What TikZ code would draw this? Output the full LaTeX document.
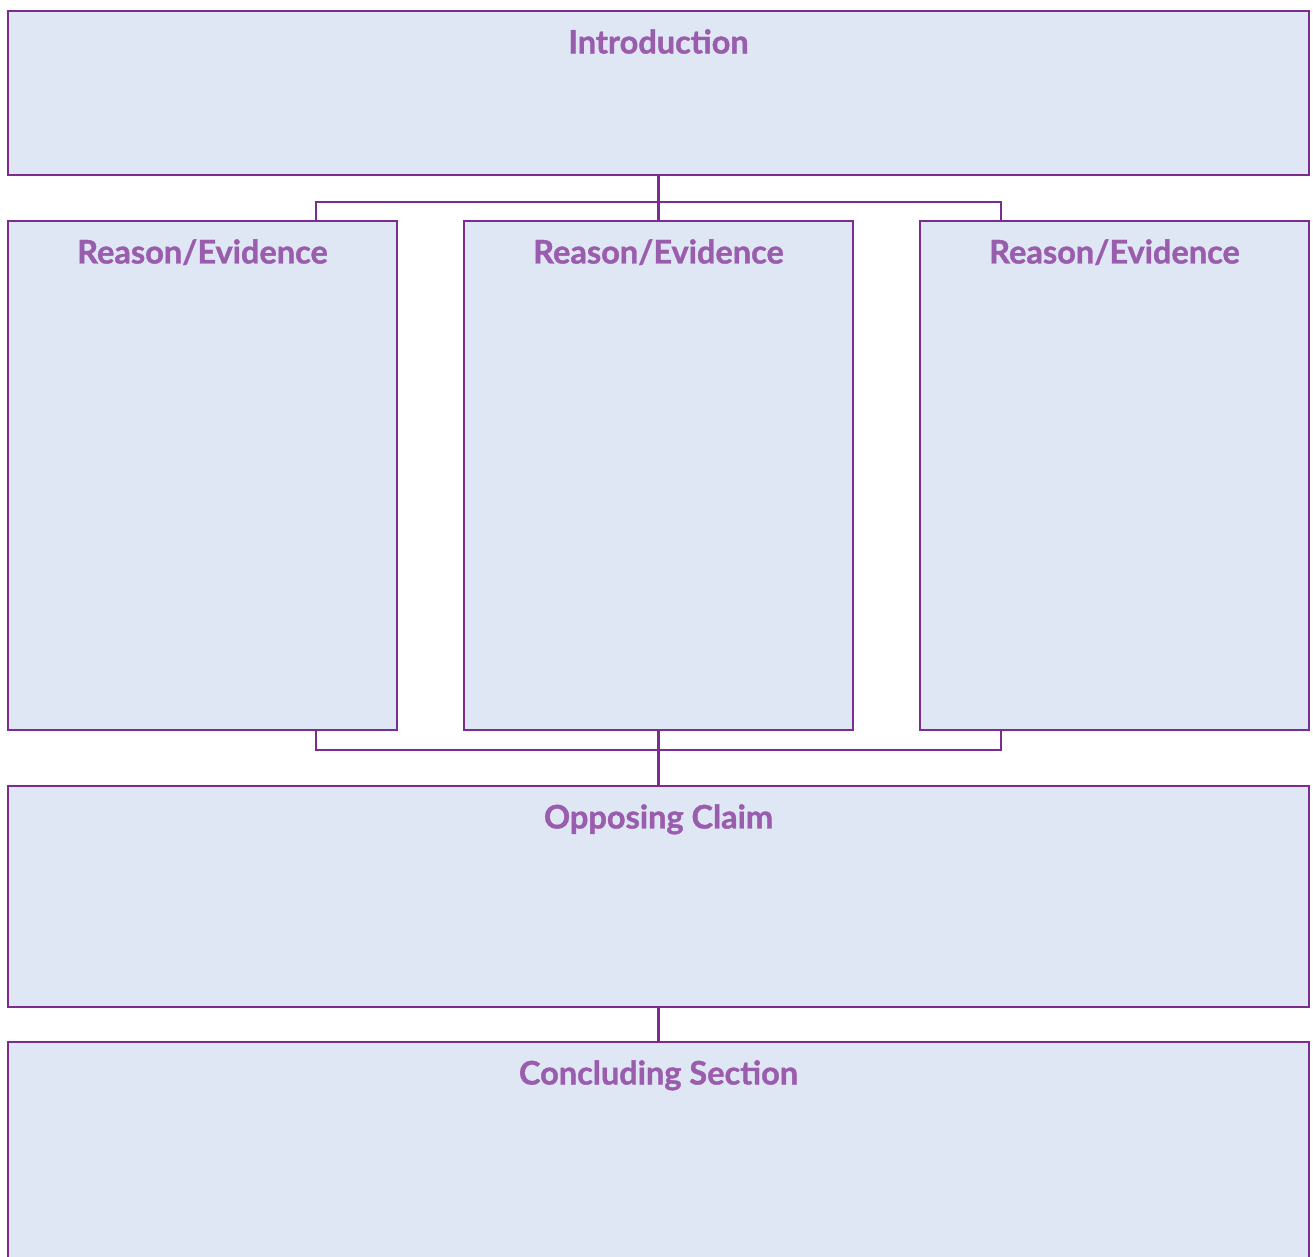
\documentclass[tikz,border=0pt]{standalone}
\usepackage{fontspec}
\setmainfont{Lato}[BoldFeatures={FakeBold=1.2}]
\usetikzlibrary{positioning, calc}
\definecolor{boxline}{HTML}{7B2D8F}
\definecolor{boxfill}{HTML}{E0E7F4}
\definecolor{titletext}{HTML}{9A5DAD}
\tikzstyle{widebox} = [rectangle, minimum width=26.02cm, draw=boxline, fill=boxfill, line width=1.4pt, inner sep=0pt, outer sep=0pt]
\tikzstyle{reasonbox} = [rectangle, minimum width=7.78cm, minimum height=10.18cm, draw=boxline, fill=boxfill, line width=1.4pt, inner sep=0pt, outer sep=0pt]
\tikzstyle{title} = [anchor=north, inner sep=0pt, text=titletext, font=\fontsize{18.5}{22}\selectfont\bfseries]
\tikzstyle{link} = [draw=boxline, line width=1.4pt]

\begin{document}
\begin{tikzpicture}[node distance=1cm]

\useasboundingbox (0,0) rectangle (26.26,25.14);

\node (intro) [widebox, minimum height=3.28cm] at (13.17,23.28) {};
\node (reason2) [reasonbox, below=0.92cm of intro] {};
\node (reason1) [reasonbox, left=1.34cm of reason2] {};
\node (reason3) [reasonbox, right=1.34cm of reason2] {};
\node (opposing) [widebox, minimum height=4.42cm, below=1.12cm of reason2] {};
\node (concluding) [widebox, minimum height=5cm, below=0.7cm of opposing] {};

\node (introtitle) [title, below=0.36cm of intro.north] {Introduction};
\node (reason1title) [title, below=0.36cm of reason1.north] {Reason/Evidence};
\node (reason2title) [title, below=0.36cm of reason2.north] {Reason/Evidence};
\node (reason3title) [title, below=0.36cm of reason3.north] {Reason/Evidence};
\node (opposingtitle) [title, below=0.36cm of opposing.north] {Opposing Claim};
\node (concludingtitle) [title, below=0.36cm of concluding.north] {Concluding Section};

% fork from the introduction
\coordinate (topfork) at ($(intro.south)!0.587!(reason2.north)$);
\coordinate (topforkL) at ([xshift=-6.85cm]topfork);
\coordinate (topforkR) at ([xshift=6.85cm]topfork);
\draw [link] (intro.south) -- (reason2.north);
\draw [link] (reason1.north -| topforkL) |- (topforkR) -- (reason3.north -| topforkR);

% join into the opposing claim
\coordinate (botfork) at ($(reason2.south)!0.357!(opposing.north)$);
\coordinate (botforkL) at ([xshift=-6.85cm]botfork);
\coordinate (botforkR) at ([xshift=6.85cm]botfork);
\draw [link] (reason1.south -| botforkL) |- (botforkR) -- (reason3.south -| botforkR);
\draw [link] (reason2.south) -- (opposing.north);
\draw [link] (opposing) -- (concluding);

\end{tikzpicture}
\end{document}
